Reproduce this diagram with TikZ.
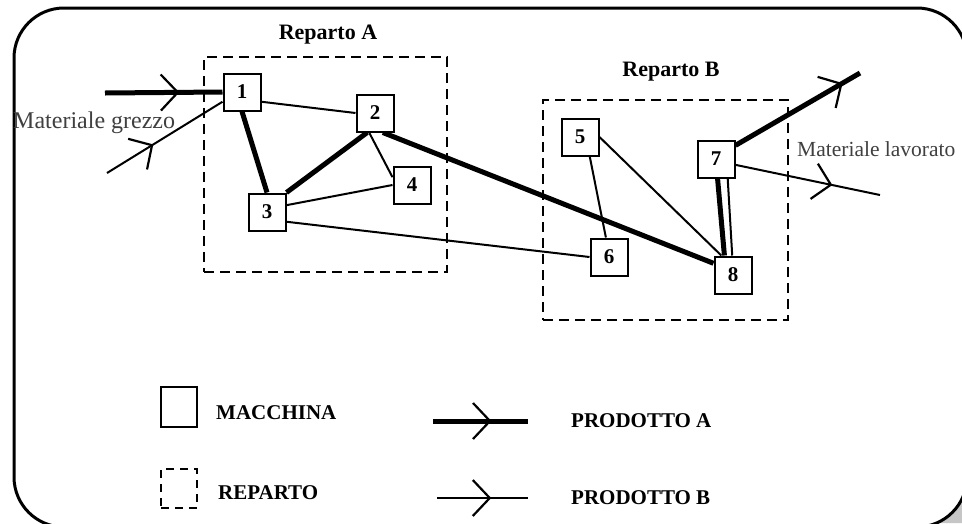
\documentclass[tikz,border=0pt]{standalone}
\usepackage{fontspec}
\setmainfont{Liberation Serif}
\usetikzlibrary{decorations.markings,calc}
\pgfdeclarelayer{background}
\pgfdeclarelayer{edges}
\pgfsetlayers{background,edges,main}
\tikzset{
  box/.style={draw, fill=white, line width=2pt, minimum width=37pt, minimum height=37pt,
    inner sep=0pt, font=\fontsize{21}{21}\selectfont\bfseries},
  reparto/.style={draw, line width=2pt, dash pattern=on 10pt off 6pt, inner sep=0pt},
  thickflow/.style={line width=5pt},
  thinflow/.style={line width=2pt},
  chev/.style={postaction={decorate}, decoration={markings, mark=at position #1 with
    {\draw[line width=2.2pt, line cap=butt, line join=miter] (-17pt,18pt) -- (0pt,0pt) -- (-17pt,-18pt);}}},
  lbl/.style={font=\fontsize{21}{21}\selectfont\bfseries, inner sep=0pt},
  mat/.style={font=\fontsize{24}{24}\selectfont, text=black!75, inner sep=0pt},
}
\begin{document}
\begin{tikzpicture}[x=1pt, y=-1pt]
\useasboundingbox (0,0) rectangle (962,523);
\begin{pgfonlayer}{background}
  \fill[white] (0,0) rectangle (962,523);
  \fill[gray!45] (962,523) -- (962,498.8) arc[start angle=25.8, end angle=66.9, radius=50] -- cycle;
  \draw[line width=3pt, rounded corners=50pt] (14,8) rectangle (967,527);
  \node[reparto, minimum width=243pt, minimum height=215pt] (repA) at (325.5,164.5) {};
  \node[reparto, minimum width=245pt, minimum height=220pt] (repB) at (665.5,210) {};
\end{pgfonlayer}

\node[lbl, font=\fontsize{22}{22}\selectfont\bfseries] (labA) at (328,35) {Reparto A};
\node[lbl, font=\fontsize{22}{22}\selectfont\bfseries] (labB) at (671,72) {Reparto B};

\node[box] (m1) at (242,92) {1};
\node[box] (m2) at (375,113) {2};
\node[box] (m3) at (267,212) {3};
\node[box] (m4) at (412,185) {4};
\node[box] (m5) at (580,137) {5};
\node[box] (m6) at (609,257) {6};
\node[box] (m7) at (716,159) {7};
\node[box] (m8) at (733,275) {8};

\node[mat, anchor=west] (matin) at (13,123) {Materiale grezzo};
\node[mat, anchor=west, font=\fontsize{21.5}{21.5}\selectfont] (matout) at (797,149) {Materiale lavorato};

\coordinate (inA) at (105,93);
\coordinate (inB) at (107,173);
\coordinate (outA) at (860,73);
\coordinate (outB) at (880,195);

\begin{pgfonlayer}{edges}
\draw[thickflow, chev=0.62] (inA) -- (m1.west);
\draw[thinflow, chev=0.39] (inB) -- ($(m1.west)!0.5!(m1.south west)$);
\draw[thinflow] ($(m1.east)!0.5!(m1.south east)$) -- (m2.west);
\draw[thickflow] (m1.south) -- (m3.north);
\draw[thickflow] ($(m2.south west)!0.3!(m2.south east)$) -- (m3.north east);
\draw[thinflow] ($(m2.south west)!0.35!(m2.south east)$) -- ($(m4.west)!0.4!(m4.north west)$);
\draw[thinflow] ($(m3.east)!0.35!(m3.north east)$) -- (m4.west);
\draw[thinflow] ($(m3.east)!0.5!(m3.south east)$) -- (m6.west);
\draw[thickflow] ($(m2.south west)!0.7!(m2.south east)$) -- ($(m8.west)!0.6!(m8.north west)$);
\draw[thinflow] ($(m5.south west)!0.75!(m5.south east)$) -- ($(m6.north west)!0.42!(m6.north east)$);
\draw[thinflow] (m5.east) -- ($(m8.north west)!0.2!(m8.north east)$);
\draw[thickflow] ($(m7.south west)!0.54!(m7.south east)$) -- ($(m8.north west)!0.28!(m8.north east)$);
\draw[thinflow] ($(m7.south west)!0.8!(m7.south east)$) -- ($(m8.north west)!0.48!(m8.north east)$);
\draw[thickflow, chev=0.85] ($(m7.north east)!0.3!(m7.east)$) -- (outA);
\draw[thinflow, chev=0.66] ($(m7.east)!0.3!(m7.south east)$) -- (outB);
\end{pgfonlayer}

% legend
\node[box, minimum width=36pt, minimum height=40pt] (legm) at (179,407) {};
\node[lbl, anchor=west] (legmt) at (216,413) {MACCHINA};
\node[reparto, minimum width=36pt, minimum height=39pt, dash pattern=on 8pt off 6pt] (legr) at (179,488.5) {};
\node[lbl, anchor=west] (legrt) at (218,493) {REPARTO};
\coordinate (la1) at (433,421);
\coordinate (la2) at (528,421);
\coordinate (lb1) at (437,498);
\coordinate (lb2) at (528,498);
\draw[thickflow, chev=0.6] (la1) -- (la2);
\draw[thinflow, chev=0.58] (lb1) -- (lb2);
\node[lbl, anchor=west] (legat) at (571,421) {PRODOTTO A};
\node[lbl, anchor=west] (legbt) at (571,498) {PRODOTTO B};
\end{tikzpicture}
\end{document}
